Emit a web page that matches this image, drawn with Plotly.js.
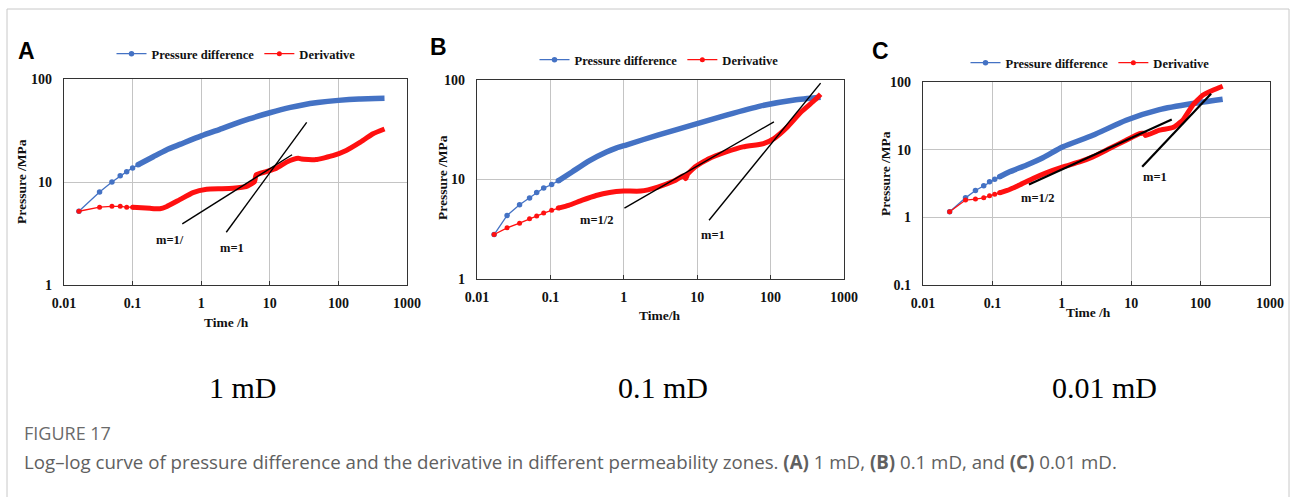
<!DOCTYPE html>
<html>
<head>
<meta charset="utf-8">
<script src="https://cdn.plot.ly/plotly-3.0.1.min.js"></script>
<style>html,body{margin:0;padding:0;background:#fff;}#chart{width:1293px;height:497px;}</style>
</head>
<body>
<div id="chart"></div>
<script>
// ---------- data ----------
const xTickVals = [0.01, 0.1, 1, 10, 100, 1000];
const xTickText = ["0.01", "0.1", "1", "10", "100", "1000"];
const yTickValsAB = [1, 10, 100];
const yTickTextAB = ["1", "10", "100"];
const yTickValsC = [0.1, 1, 10, 100];
const yTickTextC = ["0.1", "1", "10", "100"];

// Panel A (1 mD)
const tA_p = [0.0165, 0.033, 0.05, 0.066, 0.082, 0.1, 0.12, 0.2, 0.31, 0.5, 1, 2, 3, 5, 10, 20, 30, 50, 100, 200, 470];
const pA   = [5.2, 8.0, 10.0, 11.5, 12.6, 13.7, 14.7, 17.6, 20.5, 23.3, 28, 33, 36.5, 41, 47, 53, 56, 59, 62, 64, 65];
const tA_d = [0.0165, 0.033, 0.05, 0.066, 0.082, 0.1, 0.18, 0.25, 0.31, 0.48, 0.76, 1.2, 2, 2.9, 4.5, 6, 6.3, 8.9, 12.5, 17.6, 22, 26, 29, 47, 83, 130, 206, 320, 470];
const dA   = [5.2, 5.7, 5.8, 5.8, 5.7, 5.7, 5.55, 5.5, 5.75, 6.7, 7.9, 8.5, 8.6, 8.7, 9.0, 10.1, 11.7, 12.6, 13.6, 15.6, 16.6, 17.0, 16.7, 16.5, 18, 20.2, 24.2, 29.4, 32.7];
const lineA_half_t = [0.53, 21.1];
const lineA_half_p = [3.92, 18.4];
const lineA_one_t = [2.32, 34.5];
const lineA_one_p = [3.25, 37.9];

// Panel B (0.1 mD)
const tB_p = [0.0171, 0.0257, 0.038, 0.052, 0.065, 0.081, 0.104, 0.128, 0.197, 0.337, 0.58, 0.8, 1.1, 2.9, 8.5, 25, 72, 210, 480];
const pB   = [2.8, 4.35, 5.57, 6.5, 7.4, 8.2, 8.9, 9.7, 11.9, 15.4, 18.9, 20.8, 22.3, 28.0, 35.2, 44.4, 54.7, 62.9, 67];
const tB_d = [0.0171, 0.0257, 0.038, 0.052, 0.065, 0.081, 0.104, 0.128, 0.177, 0.272, 0.42, 0.64, 0.99, 1.7, 2.9, 4.9, 6.5, 7.0, 7.4, 9.4, 14.4, 24.7, 42, 70, 80, 111, 170, 262, 400, 480];
const dB   = [2.8, 3.27, 3.64, 4.03, 4.3, 4.6, 4.9, 5.16, 5.5, 6.2, 6.9, 7.4, 7.65, 7.65, 8.4, 9.7, 10.9, 10.2, 11.3, 13.4, 16.2, 18.9, 21.3, 22.5, 23, 25.8, 33.8, 47.9, 62.9, 72];
const lineB_half_t = [1.02, 111];
const lineB_half_p = [5.16, 38];
const lineB_one_t = [14.5, 480];
const lineB_one_p = [3.9, 93];

// Panel C (0.01 mD)
const tC_p = [0.0242, 0.041, 0.057, 0.075, 0.091, 0.108, 0.127, 0.177, 0.307, 0.534, 1.04, 2.8, 8.45, 25.5, 77, 208];
const pC   = [1.21, 1.94, 2.49, 2.92, 3.35, 3.66, 3.97, 4.7, 5.9, 7.6, 11, 16.3, 27.2, 39, 48, 55.6];
const tC_d = [0.0242, 0.041, 0.057, 0.075, 0.091, 0.108, 0.127, 0.177, 0.246, 0.384, 0.596, 1.04, 1.8, 2.8, 4.87, 8.45, 13.2, 15.5, 16, 25.5, 39.7, 55.3, 77, 107, 150, 208];
const dC   = [1.21, 1.8, 1.86, 1.94, 2.08, 2.2, 2.3, 2.58, 3.0, 3.75, 4.55, 5.57, 6.6, 7.83, 10.4, 13.8, 17.3, 17.5, 16.2, 19.4, 21.2, 27.2, 45.3, 63.7, 75.5, 86.5];
const lineC_half_t = [0.336, 38.4];
const lineC_half_p = [3.06, 27.9];
const lineC_one_t = [14.4, 141.6];
const lineC_one_p = [5.57, 67.3];

const seriesNames = ["Pressure difference", "Derivative"];
const panelLetters = ["A", "B", "C"];
const permLabels = ["1 mD", "0.1 mD", "0.01 mD"];
const slopeLabels = [["m=1/", "m=1"], ["m=1/2", "m=1"], ["m=1/2", "m=1"]];
const slopeLabelPos = [[[0.35, 2.73], [2.81, 2.29]], [[0.43, 3.92], [16.4, 2.77]], [[0.454, 1.93], [22, 3.94]]];
const xTitles = ["Time /h", "Time/h", "Time /h"];
const yTitle = "Pressure /MPa";
const figLabel = "FIGURE 17";
const captionText = "Log\u2013log curve of pressure difference and the derivative in different permeability zones. <b>(A)</b> 1 mD, <b>(B)</b> 0.1 mD, and <b>(C)</b> 0.01 mD.";

// ---------- styling ----------
const BLUE = "#4472c4";
const RED = "#ff1010";
const SERIF = "Liberation Serif, Times New Roman, serif";
const W = 1293, H = 497;
const px = v => v / W;
const py = v => 1 - v / H;

const panels = [
  {tp: tA_p, p: pA, td: tA_d, d: dA, kp: 6, kd: 5, lh: [lineA_half_t, lineA_half_p], l1: [lineA_one_t, lineA_one_p], lw: 1.4},
  {tp: tB_p, p: pB, td: tB_d, d: dB, kp: 7, kd: 7, lh: [lineB_half_t, lineB_half_p], l1: [lineB_one_t, lineB_one_p], lw: 1.4},
  {tp: tC_p, p: pC, td: tC_d, d: dC, kp: 6, kd: 6, lh: [lineC_half_t, lineC_half_p], l1: [lineC_one_t, lineC_one_p], lw: 2.2}
];

const traces = [];
panels.forEach((P, i) => {
  const xa = i === 0 ? "x" : "x" + (i + 1);
  const ya = i === 0 ? "y" : "y" + (i + 1);
  const lg = i === 0 ? "legend" : "legend" + (i + 1);
  traces.push({x: P.tp.slice(0, P.kp + 1), y: P.p.slice(0, P.kp + 1), xaxis: xa, yaxis: ya, legend: lg,
    name: seriesNames[0], mode: "lines+markers", line: {color: BLUE, width: 1.3},
    marker: {color: BLUE, size: 5.5}, showlegend: true});
  traces.push({x: P.td.slice(0, P.kd + 1), y: P.d.slice(0, P.kd + 1), xaxis: xa, yaxis: ya, legend: lg,
    name: seriesNames[1], mode: "lines+markers", line: {color: RED, width: 1.3},
    marker: {color: RED, size: 5}, showlegend: true});
  traces.push({x: P.tp.slice(P.kp), y: P.p.slice(P.kp), xaxis: xa, yaxis: ya, mode: "lines",
    line: {color: BLUE, width: 5.5, shape: "spline", smoothing: 0.6}, showlegend: false, hoverinfo: "skip"});
  traces.push({x: P.td.slice(P.kd), y: P.d.slice(P.kd), xaxis: xa, yaxis: ya, mode: "lines",
    line: {color: RED, width: 5, shape: "spline", smoothing: 0.4}, showlegend: false, hoverinfo: "skip"});
  traces.push({x: P.lh[0], y: P.lh[1], xaxis: xa, yaxis: ya, mode: "lines",
    line: {color: "#000", width: P.lw}, showlegend: false, hoverinfo: "skip"});
  traces.push({x: P.l1[0], y: P.l1[1], xaxis: xa, yaxis: ya, mode: "lines",
    line: {color: "#000", width: P.lw}, showlegend: false, hoverinfo: "skip"});
});

const xDomains = [[px(64), px(407)], [px(477), px(844)], [px(923), px(1270)]];
const yDomains = [[py(285), py(79)], [py(279), py(80)], [py(285), py(82)]];
const yRanges = [[0, 2], [0, 2], [-1, 2]];

const tickFont = {family: SERIF, size: 14, color: "#111", weight: "bold"};
function xAxis(i) {
  return {domain: xDomains[i], anchor: i === 0 ? "y" : "y" + (i + 1), type: "log", range: [-2, 3],
    tickvals: xTickVals, ticktext: xTickText, tickfont: tickFont, showline: true, mirror: true,
    linecolor: "#333", linewidth: 1.3, showgrid: true, gridcolor: "#c4c4c4", gridwidth: 1,
    zeroline: false, ticks: "inside", ticklen: 4, tickcolor: "#333", ticklabelstandoff: 5, fixedrange: true};
}
function yAxis(i) {
  return {domain: yDomains[i], anchor: i === 0 ? "x" : "x" + (i + 1), type: "log", range: yRanges[i],
    tickvals: i === 2 ? yTickValsC : yTickValsAB, ticktext: i === 2 ? yTickTextC : yTickTextAB,
    tickfont: tickFont, showline: true, mirror: true,
    linecolor: "#333", linewidth: 1.3, showgrid: true, gridcolor: "#c4c4c4", gridwidth: 1,
    zeroline: false, ticks: "", ticklabelstandoff: 8, fixedrange: true};
}

const legendPos = [[px(236), py(54)], [px(659), py(60)], [px(1090), py(63)]];
function legend(i) {
  return {orientation: "h", x: legendPos[i][0], y: legendPos[i][1], xanchor: "center", yanchor: "middle",
    font: {family: SERIF, size: 12.5, color: "#111", weight: "bold"}, bgcolor: "rgba(0,0,0,0)",
    itemwidth: 30, tracegroupgap: 0, traceorder: "normal"};
}

const annotations = [];
const letterPos = [[26, 51], [438, 47], [880, 51]];
const yTitlePos = [[22, 182], [442, 177], [885, 174]];
const xTitlePos = [[227, 322], [660, 315], [1088, 312]];
const permPos = [[243, 387], [663, 387], [1104, 387]];
for (let i = 0; i < 3; i++) {
  const xa = i === 0 ? "x" : "x" + (i + 1);
  const ya = i === 0 ? "y" : "y" + (i + 1);
  annotations.push({text: panelLetters[i], xref: "paper", yref: "paper", x: px(letterPos[i][0]), y: py(letterPos[i][1]),
    xanchor: "center", yanchor: "middle", showarrow: false,
    font: {family: "Liberation Sans, Arial, sans-serif", size: 23, color: "#000", weight: "bold"}});
  annotations.push({text: yTitle, xref: "paper", yref: "paper", x: px(yTitlePos[i][0]), y: py(yTitlePos[i][1]),
    xanchor: "center", yanchor: "middle", textangle: -90, showarrow: false,
    font: {family: SERIF, size: 13.5, color: "#111", weight: "bold"}});
  annotations.push({text: xTitles[i], xref: "paper", yref: "paper", x: px(xTitlePos[i][0]), y: py(xTitlePos[i][1]),
    xanchor: "center", yanchor: "middle", showarrow: false,
    font: {family: SERIF, size: 13.5, color: "#111", weight: "bold"}});
  annotations.push({text: permLabels[i], xref: "paper", yref: "paper", x: px(permPos[i][0]), y: py(permPos[i][1]),
    xanchor: "center", yanchor: "middle", showarrow: false,
    font: {family: SERIF, size: 30, color: "#000"}});
  for (let j = 0; j < 2; j++) {
    annotations.push({text: slopeLabels[i][j], xref: xa, yref: ya,
      x: Math.log10(slopeLabelPos[i][j][0]), y: Math.log10(slopeLabelPos[i][j][1]),
      xanchor: "center", yanchor: "middle", showarrow: false,
      font: {family: SERIF, size: 12.5, color: "#111", weight: "bold"}});
  }
}
annotations.push({text: figLabel, xref: "paper", yref: "paper", x: px(22), y: py(433), xanchor: "left", yanchor: "middle",
  showarrow: false, font: {family: "Open Sans, sans-serif", size: 18, color: "#6a6a6a"}});
annotations.push({text: captionText, xref: "paper", yref: "paper", x: px(22), y: py(461), xanchor: "left", yanchor: "middle",
  showarrow: false, font: {family: "Open Sans, sans-serif", size: 18.7, color: "#606060"}});

const layout = {
  width: W, height: H, margin: {l: 0, r: 0, t: 0, b: 0},
  paper_bgcolor: "#fff", plot_bgcolor: "#fff", showlegend: true,
  xaxis: xAxis(0), yaxis: yAxis(0), xaxis2: xAxis(1), yaxis2: yAxis(1), xaxis3: xAxis(2), yaxis3: yAxis(2),
  legend: legend(0), legend2: legend(1), legend3: legend(2),
  annotations: annotations,
  shapes: [{type: "rect", xref: "paper", yref: "paper", x0: px(7), x1: px(1289), y0: -0.05, y1: py(9),
    line: {color: "#c8c8c8", width: 1}, fillcolor: "rgba(0,0,0,0)", layer: "below"}]
};

Plotly.newPlot("chart", traces, layout, {displayModeBar: false, staticPlot: true});
</script>
</body>
</html>
